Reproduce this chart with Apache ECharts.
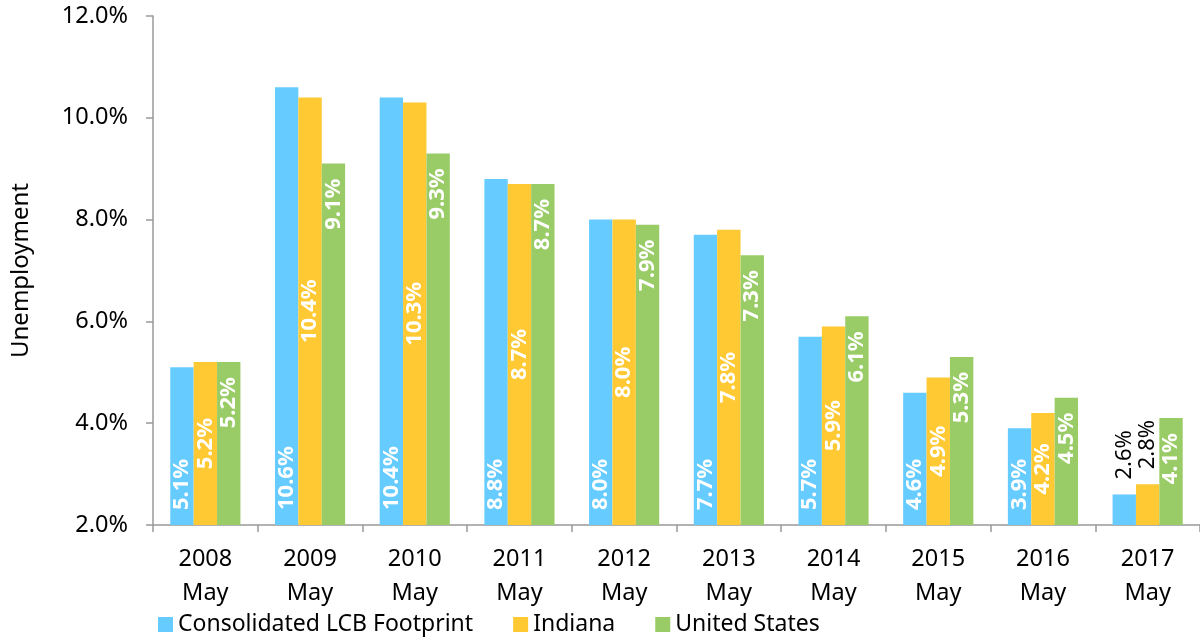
<!DOCTYPE html>
<html>
<head>
<meta charset="utf-8">
<title>Unemployment</title>
<script src="https://cdn.jsdelivr.net/npm/echarts@6/dist/echarts.min.js"></script>
<style>
  html, body { margin: 0; padding: 0; background: #fff; }
  #chart { width: 1200px; height: 642px; }
</style>
</head>
<body>
<div id="chart"></div>
<script>
// 数据
const years = ['2008', '2009', '2010', '2011', '2012', '2013', '2014', '2015', '2016', '2017'];
const lcb = [5.1, 10.6, 10.4, 8.8, 8.0, 7.7, 5.7, 4.6, 3.9, 2.6];
const indiana = [5.2, 10.4, 10.3, 8.7, 8.0, 7.8, 5.9, 4.9, 4.2, 2.8];
const us = [5.2, 9.1, 9.3, 8.7, 7.9, 7.3, 6.1, 5.3, 4.5, 4.1];
const yTicks = [2, 4, 6, 8, 10, 12];

const font = '"Noto Sans", sans-serif';
const fmt = p => p.value.toFixed(1) + '%';

function barLabel(position, align) {
  return {
    show: true,
    position: position,
    rotate: 90,
    align: align,
    verticalAlign: 'middle',
    distance: 15,
    color: '#fff',
    fontWeight: 'bold',
    fontSize: 22,
    fontFamily: font,
    formatter: fmt
  };
}

// 2017年短柱标签放在柱子外面
function withOutside(arr, idx) {
  return arr.map((v, i) => {
    if (i !== idx) return v;
    return {
      value: v,
      label: { position: 'top', align: 'left', color: '#000', fontWeight: 'normal', distance: 15 }
    };
  });
}

const chart = echarts.init(document.getElementById('chart'));
chart.setOption({
  animation: false,
  textStyle: { fontFamily: font },
  grid: { left: 153, right: 0, top: 16, bottom: 117 },
  legend: {
    bottom: 1,
    left: 153,
    itemWidth: 15,
    itemHeight: 15,
    itemGap: 40,
    icon: 'rect',
    textStyle: { fontSize: 23, color: '#000', fontFamily: font },
    data: ['Consolidated LCB Footprint', 'Indiana', 'United States']
  },
  xAxis: {
    type: 'category',
    data: years.map(y => y + '\nMay'),
    axisLine: { lineStyle: { color: '#999', width: 1.5 } },
    axisTick: { show: true, length: 7, lineStyle: { color: '#999', width: 1.5 } },
    axisLabel: { color: '#000', fontSize: 23.5, lineHeight: 34, margin: 17, fontFamily: font }
  },
  yAxis: {
    type: 'value',
    min: yTicks[0],
    max: yTicks[yTicks.length - 1],
    interval: 2,
    name: 'Unemployment',
    nameLocation: 'middle',
    nameGap: 120,
    nameRotate: 90,
    nameTextStyle: { color: '#000', fontSize: 24, fontFamily: font },
    splitLine: { show: false },
    axisLine: { show: true, lineStyle: { color: '#999', width: 1.5 } },
    axisTick: { show: true, length: 7, lineStyle: { color: '#999', width: 1.5 } },
    axisLabel: {
      color: '#000', fontSize: 23.5, margin: 25, fontFamily: font,
      formatter: v => v.toFixed(1) + '%'
    }
  },
  series: [
    {
      name: 'Consolidated LCB Footprint',
      type: 'bar',
      data: withOutside(lcb, 9),
      barGap: '0%',
      barCategoryGap: '33%',
      itemStyle: { color: '#66CCFF' },
      label: barLabel('insideBottom', 'left')
    },
    {
      name: 'Indiana',
      type: 'bar',
      data: withOutside(indiana, 9),
      itemStyle: { color: '#FFC933' },
      label: Object.assign(barLabel('inside', 'center'), { distance: 5 })
    },
    {
      name: 'United States',
      type: 'bar',
      data: us,
      itemStyle: { color: '#99CC66' },
      label: barLabel('insideTop', 'right')
    }
  ]
});
</script>
</body>
</html>
